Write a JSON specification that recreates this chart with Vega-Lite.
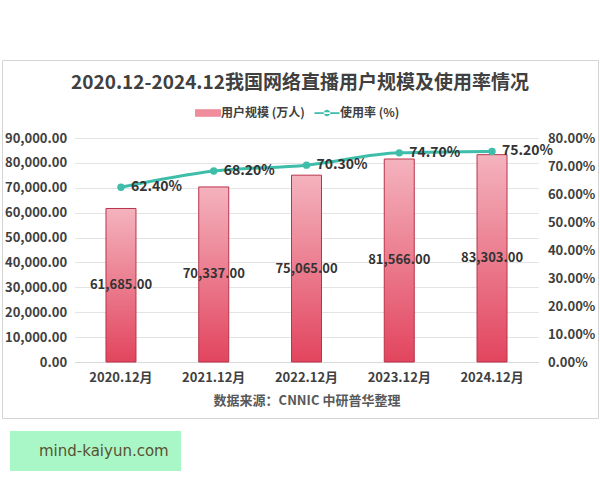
{
  "$schema": "https://vega.github.io/schema/vega-lite/v6.json",
  "width": 596,
  "height": 358,
  "autosize": {"type": "none"},
  "padding": {"left": 2, "top": 60, "right": 2, "bottom": 62},
  "background": "#ffffff",
  "title": {
    "text": "2020.12-2024.12我国网络直播用户规模及使用率情况",
    "fontSize": 19,
    "fontWeight": "bold",
    "color": "#404040",
    "font": "Noto Sans CJK SC",
    "anchor": "middle",
    "frame": "group",
    "offset": -33
  },
  "data": {
    "values": [
      {"month": "2020.12月", "users": 61685, "rate": 0.624},
      {"month": "2021.12月", "users": 70337, "rate": 0.682},
      {"month": "2022.12月", "users": 75065, "rate": 0.703},
      {"month": "2023.12月", "users": 81566, "rate": 0.747},
      {"month": "2024.12月", "users": 83303, "rate": 0.752}
    ]
  },
  "encoding": {
    "x": {
      "field": "month",
      "type": "nominal",
      "sort": null,
      "scale": {"range": [72.6, 536.4], "paddingInner": 0, "paddingOuter": 0},
      "axis": {
        "orient": "bottom",
        "offset": -56,
        "title": "数据来源：CNNIC 中研普华整理",
        "titleFont": "Noto Sans CJK SC",
        "titleFontSize": 13,
        "titleFontWeight": "bold",
        "titleColor": "#595959",
        "titlePadding": 10,
        "labelAngle": 0,
        "labelFont": "Noto Sans CJK SC",
        "labelFontSize": 13,
        "labelFontWeight": "bold",
        "labelColor": "#404040",
        "labelPadding": 9,
        "ticks": false,
        "domain": true,
        "domainColor": "#d9d9d9",
        "grid": false
      }
    }
  },
  "layer": [
    {
      "mark": {
        "type": "bar",
        "width": 30,
        "fill": {
          "gradient": "linear",
          "x1": 0, "y1": 0, "x2": 0, "y2": 1,
          "stops": [
            {"offset": 0, "color": "#f4b3be"},
            {"offset": 1, "color": "#e2455e"}
          ]
        },
        "stroke": "#b9334a",
        "strokeWidth": 1
      },
      "encoding": {
        "y": {
          "field": "users",
          "type": "quantitative",
          "scale": {"domain": [0, 90000], "range": [302, 78], "nice": false, "zero": true},
          "axis": {
            "orient": "left",
            "offset": -72.6,
            "title": null,
            "values": [0, 10000, 20000, 30000, 40000, 50000, 60000, 70000, 80000, 90000],
            "format": ",.2f",
            "labelFont": "Noto Sans CJK SC",
            "labelFontSize": 13,
            "labelFontWeight": "bold",
            "labelColor": "#404040",
            "labelPadding": 8,
            "ticks": false,
            "domain": false,
            "grid": true,
            "gridColor": "#e3e3e3"
          }
        }
      }
    },
    {
      "layer": [
        {
          "mark": {"type": "line", "strokeWidth": 3, "interpolate": "monotone"},
          "encoding": {
            "y": {
              "field": "rate",
              "type": "quantitative",
              "scale": {"domain": [0, 0.8], "range": [302, 78], "nice": false, "zero": true},
              "axis": {
                "orient": "right",
                "offset": -59.6,
                "title": null,
                "values": [0, 0.1, 0.2, 0.3, 0.4, 0.5, 0.6, 0.7, 0.8],
                "format": ".2%",
                "labelFont": "Noto Sans CJK SC",
                "labelFontSize": 13,
                "labelFontWeight": "bold",
                "labelColor": "#404040",
                "labelPadding": 9,
                "ticks": false,
                "domain": false,
                "grid": false
              }
            },
            "color": {
              "datum": "使用率 (%)",
              "scale": {"domain": ["用户规模 (万人)", "使用率 (%)"], "range": ["#ef8d9d", "#3dbdaa"]},
              "legend": {
                "orient": "none",
                "legendX": 200,
                "legendY": 47,
                "direction": "horizontal",
                "title": null,
                "padding": 0,
                "labelFont": "Noto Sans CJK SC",
                "labelFontSize": 12,
                "labelFontWeight": "bold",
                "labelColor": "#404040",
                "labelOffset": 7,
                "columnPadding": 9,
                "symbolSize": 625,
                "encode": {
                  "symbols": {
                    "update": {
                      "shape": {"signal": "datum.value === '用户规模 (万人)' ? 'M-1,-0.26H1V0.26H-1Z' : 'M-1,-0.07H1V0.07H-1Z M-0.26,0A0.26,0.26 0 1,0 0.26,0A0.26,0.26 0 1,0 -0.26,0Z'"},
                      "fill": {"signal": "datum.value === '用户规模 (万人)' ? '#ef8d9d' : '#3dbdaa'"},
                      "stroke": {"signal": "datum.value === '用户规模 (万人)' ? '#b9334a' : '#3dbdaa'"},
                      "strokeWidth": {"signal": "datum.value === '用户规模 (万人)' ? 1 : 0"},
                      "opacity": {"value": 1},
                      "fillOpacity": {"value": 1}
                    }
                  }
                }
              }
            }
          }
        },
        {
          "mark": {"type": "point", "filled": true, "color": "#3dbdaa", "size": 55, "opacity": 1},
          "encoding": {
            "y": {"field": "rate", "type": "quantitative"},
            "shape": {
              "datum": "mind-kaiyun.com",
              "legend": {
                "orient": "none",
                "legendX": 8,
                "legendY": 371,
                "title": null,
                "padding": 12,
                "fillColor": "#a9f7c7",
                "symbolSize": 1,
                "symbolOpacity": 0,
                "symbolStrokeWidth": 0,
                "labelOffset": 2,
                "labelFont": "DejaVu Sans",
                "labelFontSize": 15,
                "labelColor": "#5a5030"
              }
            }
          }
        },
        {
          "mark": {
            "type": "text",
            "align": "left",
            "baseline": "middle",
            "dx": 10,
            "font": "Noto Sans CJK SC",
            "fontSize": 14,
            "fontWeight": "bold",
            "color": "#333333"
          },
          "encoding": {
            "y": {"field": "rate", "type": "quantitative"},
            "text": {"field": "rate", "type": "quantitative", "format": ".2%"}
          }
        }
      ]
    },
    {
      "mark": {
        "type": "text",
        "align": "center",
        "baseline": "middle",
        "font": "Noto Sans CJK SC",
        "fontSize": 13,
        "fontWeight": "bold",
        "color": "#333333"
      },
      "encoding": {
        "y": {
          "field": "users",
          "type": "quantitative",
          "scale": {"domain": [0, 180000], "range": [302, 78], "nice": false, "zero": true},
          "axis": null
        },
        "text": {"field": "users", "type": "quantitative", "format": ",.2f"}
      }
    }
  ],
  "resolve": {"scale": {"y": "independent"}},
  "config": {
    "view": {"stroke": "#d4d4d4", "strokeWidth": 1}
  }
}
